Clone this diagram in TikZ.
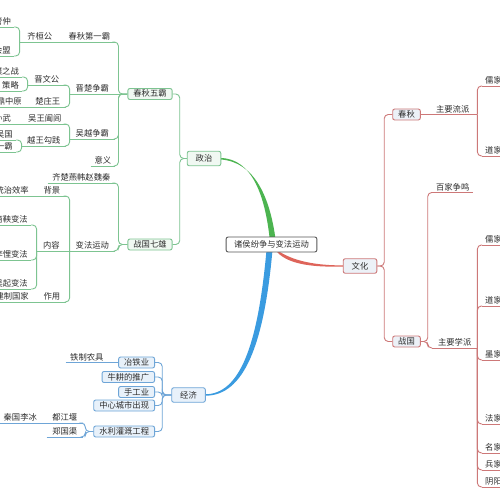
\documentclass[tikz,border=0pt]{standalone}
\usepackage{fontspec}
\newfontfamily\cjk{Noto Sans CJK SC}
\usepackage{tikz}

\definecolor{ink}{RGB}{45,45,45}
\definecolor{gmain}{RGB}{76,180,80}
\definecolor{gline}{RGB}{125,196,145}
\definecolor{gfill}{RGB}{240,248,242}
\definecolor{bmain}{RGB}{58,155,224}
\definecolor{bline}{RGB}{110,165,215}
\definecolor{bfill}{RGB}{232,241,250}
\definecolor{rmain}{RGB}{222,100,90}
\definecolor{rline}{RGB}{205,120,120}
\definecolor{rfill}{RGB}{236,241,247}

\begin{document}
\begin{tikzpicture}[x=1pt, y=-1pt,
	txt/.style={font=\cjk\fontsize{8.3}{9}\selectfont, text=ink, inner xsep=3pt, inner ysep=1pt, text height=7pt, text depth=1pt},
	lt/.style={txt, anchor=south east},
	rt/.style={txt, anchor=south west},
	bx/.style={txt, rounded corners=2pt, line width=0.9pt, inner xsep=5.5pt, minimum height=11pt},
	big/.style={bx, inner xsep=8.5pt, minimum height=14.5pt},
	gbx/.style={bx, draw=gline, fill=gfill},
	bbx/.style={bx, draw=bline, fill=bfill},
	rbx/.style={bx, draw=rline, fill=rfill},
	gln/.style={draw=gline, line width=0.9pt, rounded corners=4pt},
	bln/.style={draw=bline, line width=0.9pt, rounded corners=4pt},
	rln/.style={draw=rline, line width=0.9pt, rounded corners=4pt}]

	\useasboundingbox (0,0) rectangle (500,500);
	\fill[white] (0,0) rectangle (500,500);
	\clip (0,0) rectangle (500,500);

	% main branches
	\fill[gmain] (270.5,247) .. controls (266,195) and (252,159) .. (221,158) -- (221,159.5) .. controls (254,162) and (271,196) .. (276.5,247) -- cycle;
	\fill[bmain] (266.5,250) .. controls (258,345) and (240,394.3) .. (205,394.3) -- (205,395.7) .. controls (244,396) and (264,345) .. (272.5,250) -- cycle;
	\fill[rmain] (274,248) .. controls (292,262) and (318,265.4) .. (343,265.4) -- (343,266.6) .. controls (318,267) and (290,266) .. (277,252) -- cycle;

	\node[txt, draw=ink!80, fill=white, rounded corners=2pt, line width=0.9pt, inner xsep=8pt, minimum height=15pt] (zhuti) at (271.5,244.5) {诸侯纷争与变法运动};

	% politics
	\node[gbx, big] (zhengzhi) at (204,158.5) {政治};
	\node[gbx] (wuba) at (150,94) {春秋五霸};
	\node[gbx] (qixiong) at (150,244.5) {战国七雄};

	\node[lt, minimum width=51] (diyiba) at (115,42) {春秋第一霸};
	\node[lt, minimum width=45] (jinchu) at (115,94) {晋楚争霸};
	\node[lt, minimum width=45] (wuyue) at (115,139) {吴越争霸};
	\node[lt, minimum width=24] (yiyi) at (115,166) {意义};
	\node[lt, minimum width=40] (qihuangong) at (60,42) {齐桓公};
	\node[lt] (guanzhong) at (14,27) {管仲};
	\node[lt] (huimeng) at (14,56) {葵丘会盟};
	\node[lt, minimum width=38] (jinwengong) at (66,85) {晋文公};
	\node[lt] (chengpu) at (22,77) {城濮之战};
	\node[lt, minimum width=21] (celue) at (22,91) {策略};
	\node[lt, minimum width=36] (chuzhuang) at (66,107) {楚庄王};
	\node[lt] (wending) at (25,107) {问鼎中原};
	\node[lt, minimum width=42] (helv) at (66,124) {吴王阖闾};
	\node[lt] (sunwu) at (14,124) {孙武};
	\node[lt, minimum width=44] (goujian) at (66,146) {越王勾践};
	\node[lt] (miewu) at (16,140) {灭吴国};
	\node[lt] (yiba) at (16,152) {春秋最后一霸};

	\node[lt, minimum width=67] (qichu) at (115,183) {齐楚燕韩赵魏秦};
	\node[lt, minimum width=45] (bianfa) at (115,251) {变法运动};
	\node[lt, minimum width=28] (beijing) at (66,196) {背景};
	\node[lt] (xiaolv) at (32,196) {提高统治效率};
	\node[lt, minimum width=29] (neirong) at (66,251) {内容};
	\node[lt, minimum width=28] (zuoyong) at (66,302) {作用};
	\node[lt] (fengjian) at (32,302) {建立封建制国家};
	\node[lt] (shangyang) at (31,225) {商鞅变法};
	\node[lt] (likui) at (31,260) {李悝变法};
	\node[lt] (wuqi) at (31,289) {吴起变法};

	\foreach \n in {diyiba,jinchu,wuyue,yiyi,qihuangong,guanzhong,huimeng,jinwengong,chengpu,celue,chuzhuang,wending,helv,sunwu,goujian,miewu,yiba,qichu,bianfa,beijing,xiaolv,neirong,zuoyong,fengjian,shangyang,likui,wuqi}
		\draw[gln] (\n.south west) -- (\n.south east);

	\draw[gln] (zhengzhi.west) -- ++(-7,0) |- (wuba.east);
	\draw[gln] (zhengzhi.west) -- ++(-7,0) |- (qixiong.east);
	\draw[gln] (wuba.west) -- ++(-9,0) |- (diyiba.south east);
	\draw[gln] (wuba.west) -- (jinchu.south east);
	\draw[gln] (wuba.west) -- ++(-9,0) |- (wuyue.south east);
	\draw[gln] (wuba.west) -- ++(-9,0) |- (yiyi.south east);
	\draw[gln] (diyiba.south west) -- (qihuangong.south east);
	\draw[gln] (qihuangong.south west) |- (guanzhong.south east);
	\draw[gln] (qihuangong.south west) |- (huimeng.south east);
	\draw[gln] (jinchu.south west) |- (jinwengong.south east);
	\draw[gln] (jinchu.south west) |- (chuzhuang.south east);
	\draw[gln] (jinwengong.south west) |- (chengpu.south east);
	\draw[gln] (jinwengong.south west) |- (celue.south east);
	\draw[gln] (celue.south west) -- ++(0,-9) -- ++(-6,0);
	\draw[gln] (chuzhuang.south west) -- (wending.south east);
	\draw[gln] (wuyue.south west) |- (helv.south east);
	\draw[gln] (wuyue.south west) |- (goujian.south east);
	\draw[gln] (helv.south west) -- (sunwu.south east);
	\draw[gln] (goujian.south west) |- (miewu.south east);
	\draw[gln] (goujian.south west) |- (yiba.south east);

	\draw[gln] (qixiong.west) -- ++(-9,0) |- (qichu.south east);
	\draw[gln] (qixiong.west) -- ++(-9,0) |- (bianfa.south east);
	\draw[gln] (bianfa.south west) |- (beijing.south east);
	\draw[gln] (bianfa.south west) -- (neirong.south east);
	\draw[gln] (bianfa.south west) |- (zuoyong.south east);
	\draw[gln] (beijing.south west) -- (xiaolv.south east);
	\draw[gln] (zuoyong.south west) -- (fengjian.south east);
	\draw[gln] (neirong.south west) |- (shangyang.south east);
	\draw[gln] (neirong.south west) |- (likui.south east);
	\draw[gln] (neirong.south west) |- (wuqi.south east);

	% economy
	\node[bbx, big] (jingji) at (188.5,395) {经济};
	\node[bbx, anchor=east] (yetie) at (155,362.5) {冶铁业};
	\node[bbx, anchor=east] (niugeng) at (155,377) {牛耕的推广};
	\node[bbx, anchor=east] (shougong) at (155,392) {手工业};
	\node[bbx, anchor=east] (chengshi) at (155,405.5) {中心城市出现};
	\node[bbx, anchor=east] (shuili) at (155,431.5) {水利灌溉工程};
	\node[lt, minimum width=42] (tiezhi) at (108,362.5) {铁制农具};
	\node[lt, minimum width=36] (dujiang) at (83,423) {都江堰};
	\node[lt, minimum width=36] (zhengguo) at (83,437) {郑国渠};
	\node[lt, minimum width=43] (libing) at (42,423) {秦国李冰};

	\foreach \n in {tiezhi,dujiang,zhengguo,libing}
		\draw[bln] (\n.south west) -- (\n.south east);

	\foreach \n in {yetie,niugeng,shougong,chengshi,shuili}
		\draw[bln] (jingji.west) -- ++(-9,0) |- (\n.east);
	\draw[bln] (yetie.west) -- (tiezhi.south east);
	\draw[bln] (shuili.west) -- ++(-8,0) |- (dujiang.south east);
	\draw[bln] (shuili.west) -- ++(-8,0) |- (zhengguo.south east);
	\draw[bln] (dujiang.south west) -- (libing.south east);

	% culture
	\node[rbx, big] (wenhua) at (360,266) {文化};
	\node[rbx] (chunqiu) at (406.5,114.5) {春秋};
	\node[rbx] (zhanguo) at (406.5,341.5) {战国};
	\node[rt, minimum width=49] (liupai) at (428,114.5) {主要流派};
	\node[rt, minimum width=41] (baijia) at (432,192.5) {百家争鸣};
	\node[rt, minimum width=45] (xuepai) at (432,348) {主要学派};
	\node[rt] (rujia1) at (482,86) {儒家};
	\node[rt] (daojia1) at (482,156) {道家};
	\node[rt] (rujia2) at (482,245) {儒家};
	\node[rt] (daojia2) at (482,306) {道家};
	\node[rt] (mojia) at (482,360) {墨家};
	\node[rt] (fajia) at (482,424) {法家};
	\node[rt] (mingjia) at (482,453) {名家};
	\node[rt] (bingjia) at (482,470) {兵家};
	\node[rt] (yinyang) at (482,487) {阴阳家};

	\foreach \n in {liupai,baijia,xuepai,rujia1,daojia1,rujia2,daojia2,mojia,fajia,mingjia,bingjia,yinyang}
		\draw[rln] (\n.south west) -- (\n.south east);

	\draw[rln] (wenhua.east) -- ++(7,0) |- (chunqiu.west);
	\draw[rln] (wenhua.east) -- ++(7,0) |- (zhanguo.west);
	\draw[rln] (chunqiu.east) -- (liupai.south west);
	\draw[rln] (liupai.south east) |- (rujia1.south west);
	\draw[rln] (liupai.south east) |- (daojia1.south west);
	\draw[rln] (zhanguo.east) -- ++(7,0) |- (baijia.south west);
	\draw[rln] (zhanguo.east) -- ++(7,0) |- (xuepai.south west);
	\foreach \n in {rujia2,daojia2,mojia,fajia,mingjia,bingjia,yinyang}
		\draw[rln] (xuepai.south east) |- (\n.south west);

\end{tikzpicture}
\end{document}
